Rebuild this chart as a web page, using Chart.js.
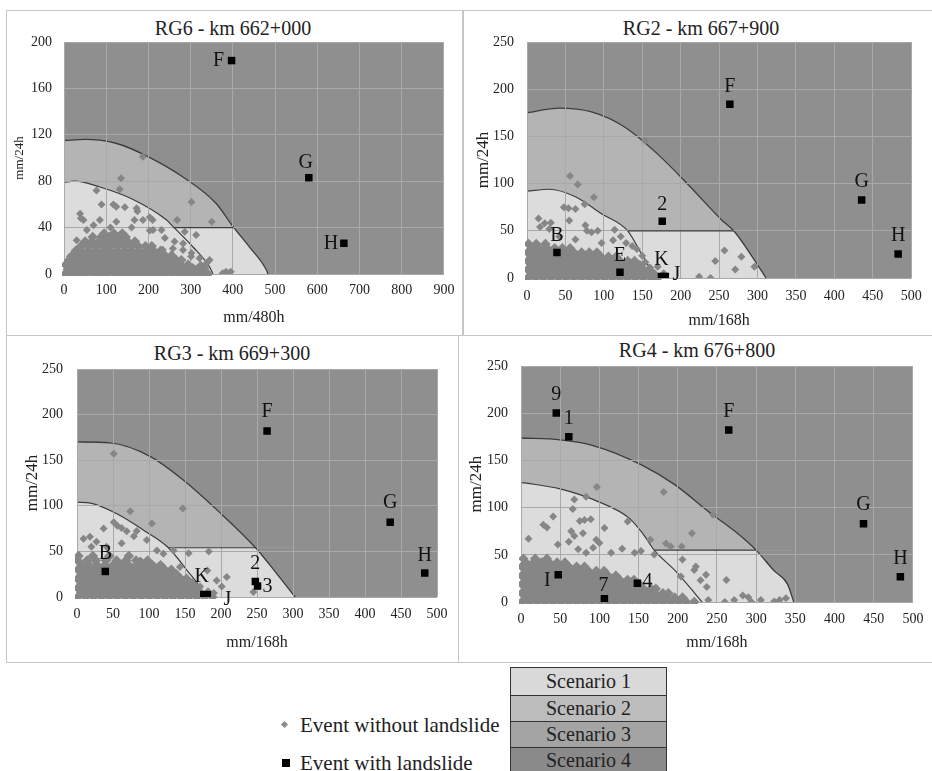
<!DOCTYPE html>
<html>
<head>
<meta charset="utf-8">
<script src="https://cdn.jsdelivr.net/npm/chart.js@4.4.0/dist/chart.umd.min.js"></script>
<style>
  body { margin: 0; background: #fff; font-family: 'Liberation Serif', serif; color: #1a1a1a; }
  #page { position: relative; width: 932px; height: 771px; overflow: hidden; background: #fff; }
  .rule { position: absolute; background: #c6c6c6; }
  .ttl { position: absolute; width: 320px; text-align: center; font-size: 20px; line-height: 24px; white-space: nowrap; font-weight: normal; color: #222; }
  canvas { position: absolute; }
  .leg { position: absolute; font-size: 21px; line-height: 24px; white-space: nowrap; color: #222; }
  #scen { position: absolute; left: 510px; top: 667px; width: 155px; border: 1.5px solid #333; }
  #scen div { display: flex; align-items: center; justify-content: center; font-size: 20px; height: 25px; border-top: 1.5px solid #333; color: #222; }
  #scen div:first-child { border-top: none; height: 27px; }
</style>
</head>
<body>
<div id="page">
  <!-- panel frames -->
  <div class="rule" style="left:6px;top:10px;width:926px;height:1px"></div>
  <div class="rule" style="left:6px;top:10px;width:1px;height:652px"></div>
  <div class="rule" style="left:6px;top:335px;width:926px;height:1px"></div>
  <div class="rule" style="left:6px;top:662px;width:926px;height:1px"></div>
  <div class="rule" style="left:462px;top:10px;width:2px;height:325px"></div>
  <div class="rule" style="left:458px;top:335px;width:1px;height:327px"></div>

  <div class="ttl" style="left:73px;top:16px">RG6 - km 662+000</div>
  <div class="ttl" style="left:541px;top:16px">RG2 - km 667+900</div>
  <div class="ttl" style="left:72px;top:341px">RG3 - km 669+300</div>
  <div class="ttl" style="left:537px;top:338px">RG4 - km 676+800</div>

  <canvas id="c1" width="455" height="314" style="left:7px;top:20px"></canvas>
  <canvas id="c2" width="468" height="314" style="left:464px;top:20px"></canvas>
  <canvas id="c3" width="450" height="315" style="left:8px;top:345px"></canvas>
  <canvas id="c4" width="473" height="315" style="left:459px;top:345px"></canvas>

  <!-- legend -->
  <div style="position:absolute;left:282px;top:722px;width:5px;height:5px;background:#8c8c8c;transform:rotate(45deg)"></div>
  <div class="leg" style="left:300px;top:713px">Event without landslide</div>
  <div style="position:absolute;left:282px;top:759px;width:8px;height:8px;background:#000"></div>
  <div class="leg" style="left:300px;top:751px">Event with landslide</div>
  <div id="scen">
    <div style="background:#d9d9d9">Scenario 1</div>
    <div style="background:#bcbcbc">Scenario 2</div>
    <div style="background:#a4a4a4">Scenario 3</div>
    <div style="background:#8a8a8a">Scenario 4</div>
  </div>
</div>

<script>
// ---- RG6 - km 662+000  (x: mm/480h, y: mm/24h)
// dense cluster of events without landslide near the origin
const rg6Dense = [
  [2,0],[18,0],[35,0],[52,0],[70,0],[86,0],[103,0],[121,0],[137,0],[154,0],[171,0],[188,0],[205,0],[222,0],[239,0],[256,0],[273,0],[290,0],[307,0],[324,0],[341,0],
  [9,4],[26,4],[43,4],[60,4],[77,4],[94,4],[111,4],[128,4],[145,4],[162,4],[179,4],[196,4],[213,4],[230,4],[247,4],[264,4],[281,4],[298,4],[315,4],[330,4],
  [4,8],[20,8],[37,8],[54,8],[71,8],[88,8],[105,8],[122,8],[139,8],[156,8],[173,8],[190,8],[207,8],[224,8],[241,8],[258,8],[276,8],[294,8],
  [12,12],[28,12],[45,12],[62,12],[79,12],[96,12],[113,12],[130,12],[147,12],[164,12],[181,12],[198,12],[215,12],[232,12],[249,12],[266,12],[278,12],
  [20,16],[35,16],[52,16],[69,16],[86,16],[103,16],[120,16],[137,16],[154,16],[171,16],[188,16],[205,16],[222,16],[239,16],[255,16],
  [28,20],[42,20],[59,20],[76,20],[93,20],[110,20],[127,20],[144,20],[161,20],[178,20],[195,20],[212,20],[229,20],
  [40,24],[57,24],[74,24],[91,24],[108,24],[125,24],[142,24],[159,24],[176,24],[193,24],[208,24],
  [50,28],[66,28],[83,28],[100,28],[117,28],[134,28],[151,28],[168,28],
  [68,32],[88,32],[108,32],[126,32],[146,32],
  [95,35],[118,35],[138,35]
];
// scattered events without landslide
const rg6Events = [
  [187,101],[135,82.5],[132,73],[77,72],[89,60],[117,60],[124,58],[144,57.5],[172,56.6],[174,54],[203,49],
  [38,52],[40,48],[46,46.5],[85,46.5],[124,45],[167,46.5],[187,46.5],[203,37.6],[210,46.5],[268,46.5],[302,62],
  [350,45],[286,36.5],[313,33.6],[282,26.4],[258,22],[302,18],[321,13.5],[337,9],[345,12],[384,2],[395,2],
  [290,2],[305,6],[274,8.5],[250,14.5],[234,21],[6,9],[14,15],[30,29],[54,38],[211,38],[231,38],[239,31],
  [160,40],[110,40],[70,42],[262,28],[282,20.7],[301,15],[324,8],[335,5],[376,0.6],[388,0.6]
];
const rg6Slides = [[397,184],[580,83],[663,26.5]];
const rg6Names = ['F','G','H'];
const rg6Outer = [[0,115],[50,116],[125,112.5],[200,101],[280,84],[360,61],[400,41],[440,23],[480,3],[483,0]];
const rg6Inner = [[0,79],[25,80],[85,75],[165,64],[243,46.5],[258,41],[305,23.5],[345,6],[353,0]];
const rg6Split = 40;
const rg6SplitLine = [[259,40],[401,40]];

// ---- RG2 - km 667+900  (x: mm/168h)
const rg2Dense = [
  [1,0],[11,0],[21,0],[31,0],[41,0],[51,0],[61,0],[71,0],[81,0],[91,0],[101,0],[111,0],[121,0],[131,0],[141,0],[151,0],[161,0],[170,0],
  [6,4.5],[16,4.5],[26,4.5],[36,4.5],[46,4.5],[56,4.5],[66,4.5],[76,4.5],[86,4.5],[96,4.5],[106,4.5],[116,4.5],[126,4.5],[136,4.5],[146,4.5],[156,4.5],[165,4.5],
  [1,9],[11,9],[21,9],[31,9],[41,9],[51,9],[61,9],[71,9],[81,9],[91,9],[101,9],[111,9],[121,9],[131,9],[141,9],[151,9],[159,9],
  [6,13.5],[16,13.5],[26,13.5],[36,13.5],[46,13.5],[56,13.5],[66,13.5],[76,13.5],[86,13.5],[96,13.5],[106,13.5],[116,13.5],[126,13.5],[136,13.5],[147,13.5],
  [1,18],[11,18],[21,18],[31,18],[41,18],[51,18],[61,18],[71,18],[81,18],[91,18],[101,18],[111,18],[121,18],[131,18],[140,18],
  [6,22.5],[16,22.5],[26,22.5],[36,22.5],[46,22.5],[56,22.5],[66,22.5],[76,22.5],[86,22.5],[96,22.5],[106,22.5],[116,22.5],
  [1,27],[11,27],[21,27],[31,27],[41,27],[51,27],[61,27],[71,27],[81,27],[91,27],
  [6,31.5],[16,31.5],[26,31.5],[36,31.5],[46,31.5],[56,31.5],
  [2,36],[12,36],[24,36]
];
const rg2Events = [
  [153.5,145.5],[56,108],[66,99],[87,85.5],[75,78],[48,75],[54,74],[63,73],[55,61],[15,63],[23,58],[31,58.5],
  [17,54],[29,52],[76,56],[78,50],[84,48.5],[92,50],[114,51],[122,44],[129,37],[137,34],[143,30.7],[112,40],
  [97,37],[63,40.7],[42,44],[0,37],[6,31.8],[150,23.7],[154,16.6],[160,11],[224,1.4],[239,0],[245,18],[257,29],
  [271,9],[279,22.6],[296,12],[178,5],[170,12]
];
const rg2Slides = [[39,27],[121,6],[176,60],[175,1.5],[180,1.5],[264,184],[435.5,82.6],[483,25.4]];
const rg2Names = ['B','E','2','K','J','F','G','H'];
const rg2Outer = [[0,175],[42,180],[84,176],[127,160],[169,132],[212,97],[254,61],[269,50],[296,19],[311,0]];
const rg2Inner = [[0,92],[29,94],[63,86],[97,68],[131,50],[148,27],[160,10],[166,0]];
const rg2Split = 50;
const rg2SplitLine = [[131,50],[269,50]];

// ---- RG3 - km 669+300  (x: mm/168h)
const rg3Dense = [
  [1,0],[12,0],[23,0],[34,0],[45,0],[56,0],[67,0],[78,0],[89,0],[100,0],[111,0],[122,0],[133,0],[144,0],[155,0],[166,0],[177,0],[188,0],
  [6,5],[17,5],[28,5],[39,5],[50,5],[61,5],[72,5],[83,5],[94,5],[105,5],[116,5],[127,5],[138,5],[149,5],[160,5],[171,5],[182,5],
  [1,10],[12,10],[23,10],[34,10],[45,10],[56,10],[67,10],[78,10],[89,10],[100,10],[111,10],[122,10],[133,10],[144,10],[155,10],[166,10],
  [6,15],[17,15],[28,15],[39,15],[50,15],[61,15],[72,15],[83,15],[94,15],[105,15],[116,15],[127,15],[138,15],[149,15],[160,15],
  [1,20],[12,20],[23,20],[34,20],[45,20],[56,20],[67,20],[78,20],[89,20],[100,20],[111,20],[122,20],[133,20],[144,20],[152,20],
  [6,25],[17,25],[28,25],[39,25],[50,25],[61,25],[72,25],[83,25],[94,25],[105,25],[116,25],[127,25],[138,25],
  [1,30],[12,30],[23,30],[34,30],[45,30],[56,30],[67,30],[78,30],[89,30],[100,30],[111,30],[122,30],[131,30],
  [6,35],[17,35],[28,35],[39,35],[50,35],[61,35],[72,35],[83,35],[94,35],[105,35],[116,35],
  [1,40],[14,40],[26,40],[40,40],[55,40],[68,40],[82,40],[98,40],
  [2,45],[22,45],[45,45],[72,45]
];
const rg3Events = [
  [51,157],[147,97],[104,80.5],[74,94],[83,72.4],[51,82],[56,78],[62,75.6],[69,72],[79,66.6],[37,75],[9,64],
  [18,66],[27,60.6],[20,55],[41,55],[62,58.8],[97,62.5],[111,51],[120,47.5],[2,44],[134,51],[155,48],[183,50],
  [181,29],[143,33],[194,18],[208,22],[201,11.5],[190,4.4],[171,11.5],[245,5.5],[88,40]
];
const rg3Slides = [[39.3,28],[176,2.6],[181,2.6],[247.7,17],[250.8,12],[264,182],[435,82],[483,26.3]];
const rg3Names = ['B','K','J','2','3','F','G','H'];
const rg3Outer = [[0,170],[46,169],[102,154],[148,128],[195,95],[248,54],[277,26],[303,0]];
const rg3Inner = [[0,104],[19,103],[56,91],[93,73],[127,54],[153,29],[176,4],[178,0]];
const rg3Split = 54;
const rg3SplitLine = [[127,54],[248,54]];

// ---- RG4 - km 676+800  (x: mm/168h)
const rg4Dense = [
  [1,0],[11,0],[21,0],[31,0],[41,0],[51,0],[61,0],[71,0],[81,0],[91,0],[101,0],[111,0],[121,0],[131,0],[141,0],[151,0],[161,0],[171,0],[181,0],[191,0],[201,0],[211,0],[221,0],
  [6,4.7],[16,4.7],[26,4.7],[36,4.7],[46,4.7],[56,4.7],[66,4.7],[76,4.7],[86,4.7],[96,4.7],[106,4.7],[116,4.7],[126,4.7],[136,4.7],[146,4.7],[156,4.7],[166,4.7],[176,4.7],[186,4.7],[196,4.7],[206,4.7],
  [1,9.4],[11,9.4],[21,9.4],[31,9.4],[41,9.4],[51,9.4],[61,9.4],[71,9.4],[81,9.4],[91,9.4],[101,9.4],[111,9.4],[121,9.4],[131,9.4],[141,9.4],[151,9.4],[161,9.4],[171,9.4],[181,9.4],[188,9.4],
  [6,14],[16,14],[26,14],[36,14],[46,14],[56,14],[66,14],[76,14],[86,14],[96,14],[106,14],[116,14],[126,14],[136,14],[146,14],[156,14],[166,14],[172,14],
  [1,19],[11,19],[21,19],[31,19],[41,19],[51,19],[61,19],[71,19],[81,19],[91,19],[101,19],[111,19],[121,19],[131,19],[141,19],[151,19],
  [6,23.5],[16,23.5],[26,23.5],[36,23.5],[46,23.5],[56,23.5],[66,23.5],[76,23.5],[86,23.5],[96,23.5],[106,23.5],[116,23.5],[126,23.5],[136,23.5],[144,23.5],
  [1,28],[11,28],[21,28],[31,28],[41,28],[51,28],[61,28],[71,28],[81,28],[91,28],[101,28],[111,28],[121,28],
  [6,33],[16,33],[26,33],[36,33],[46,33],[56,33],[66,33],[76,33],[86,33],[96,33],[106,33],
  [1,37.5],[11,37.5],[21,37.5],[31,37.5],[41,37.5],[51,37.5],[61,37.5],[71,37.5],[81,37.5],
  [6,42],[16,42],[26,42],[36,42],[46,42],[56,42],
  [3,46],[18,46],[33,46]
];
const rg4Events = [
  [182,116.8],[96.7,122],[83,111.6],[68,108.8],[66,98.7],[28.5,82],[33,79],[41,90.7],[75,86],[81,87],[89,87.7],
  [9.6,67],[47,61],[64,75],[68,70],[79,73],[61,64],[96,66],[100,62.6],[106.5,78.5],[136,85.5],[73,56],[83,52.3],
  [92,57.5],[115,52.3],[129,56.5],[145,52.3],[153,54],[165,66],[185,62],[191,59],[205,59],[218,73],[245,92.5],
  [170,50.5],[206,45],[223,37.6],[236,29],[262,23.4],[221,34],[229,23],[237,16],[204,27],[260,0],[272,2],
  [283,7],[290,5],[306,2],[323,0.5],[330,2],[338,4],[294,0],[239,2]
];
const rg4Slides = [[45,200.5],[61,175.4],[265,182.4],[437,83],[484,26.9],[47.5,29],[106.4,3.5],[148.5,19.9]];
const rg4Names = ['9','1','F','G','H','I','7','4'];
const rg4Outer = [[0,174],[50,172],[92,166],[155,145],[197,124],[239,96],[273,75],[300,55],[323,33],[340,19],[348,0]];
const rg4Inner = [[0,127],[50,120],[100,106],[138,89],[155,73],[170,55],[197,33],[222,9],[231,0]];
const rg4Split = 55;
const rg4SplitLine = [[170,55],[300,55]];

// ---- styling
const SCEN1 = '#dcdcdc', SCEN2 = '#b4b4b4', SCEN_OUT = '#8f8f8f';
const CURVE = '#3c3c3c', GRID = '#a9a9a9', DOT = '#868686', INK = '#222';
const SERIF = 'Liberation Serif';
Chart.defaults.font.family = SERIF;
Chart.defaults.color = INK;

// label offsets (px) of the landslide letters relative to their marker
const rg6LabelOff = [[-13,0],[-3,-15],[-13,0]];
const rg2LabelOff = [[0,-17],[0,-17],[0,-17],[0,-17],[11,-2],[0,-18],[0,-18],[0,-18]];
const rg3LabelOff = [[0,-18],[-2,-18],[20,5],[0,-18],[10,1],[0,-19],[0,-19],[0,-17]];
const rg4LabelOff = [[0,-18],[0,-18],[0,-18],[0,-19],[0,-18],[-11,6],[-1,-13],[10,-1]];

// axis box sizes so the plot areas land where the original ones are
const LAYOUT = {
  c1: { top: 22, right: 17, yW: 57, yPad: 12, yTitle: 5.2, yFont: 13, xH: 60, xPad: 7.6, xTitle: 6.4 },
  c2: { top: 22, right: 12, yW: 63, yPad: 13, yTitle: 9.8, yFont: 17, xH: 56, xPad: 10.3, xTitle: 3.4 },
  c3: { top: 24, right: 21, yW: 69, yPad: 14, yTitle: 14.8, yFont: 17, xH: 63, xPad: 8.6, xTitle: 7.4 },
  c4: { top: 18, right: 15, yW: 62, yPad: 13, yTitle: 7.8, yFont: 17, xH: 58, xPad: 8.6, xTitle: 7.4 },
};

const plotBg = {
  id: 'plotBg',
  beforeDraw(chart) {
    const { ctx, chartArea: a } = chart;
    ctx.save();
    ctx.fillStyle = SCEN_OUT;
    ctx.fillRect(a.left, a.top, a.width, a.height);
    ctx.restore();
  }
};

// grid has to sit over the scenario fills but under the points
const gridOver = {
  id: 'gridOver',
  beforeDatasetDraw(chart, args) {
    if (args.index !== 3) return;
    chart.scales.x.drawGrid(chart.chartArea);
    chart.scales.y.drawGrid(chart.chartArea);
  }
};

function slideNames(names, offs) {
  return {
    id: 'slideNames',
    afterDatasetsDraw(chart) {
      const ctx = chart.ctx;
      const meta = chart.getDatasetMeta(0);
      ctx.save();
      ctx.font = "20px 'Liberation Serif'";
      ctx.fillStyle = '#111';
      ctx.textAlign = 'center';
      ctx.textBaseline = 'middle';
      meta.data.forEach((pt, i) => ctx.fillText(names[i], pt.x + offs[i][0], pt.y + offs[i][1]));
      ctx.restore();
    }
  };
}

function drawPanel(id, p) {
  const L = LAYOUT[id];
  const curve = { pointRadius: 0, cubicInterpolationMode: 'monotone' };
  const tickFont = { family: SERIF, size: 14 };
  new Chart(document.getElementById(id), {
    type: 'scatter',
    data: {
      datasets: [
        { data: p.slides, pointStyle: 'rect', pointRadius: 5.3, backgroundColor: '#000', borderWidth: 0 },
        { data: p.events, pointStyle: 'rectRot', pointRadius: 4, backgroundColor: DOT, borderWidth: 0 },
        { data: p.dense, pointStyle: 'rectRot', pointRadius: 5.2, backgroundColor: DOT, borderWidth: 0, clip: 2 },
        { type: 'line', data: p.splitLine, borderColor: CURVE, borderWidth: 1.2, pointRadius: 0, fill: false },
        { type: 'line', data: p.inner, ...curve, borderColor: CURVE, borderWidth: 1.2, fill: 'origin', backgroundColor: SCEN1 },
        { type: 'line', data: p.outer, ...curve, borderColor: CURVE, borderWidth: 1.3,
          fill: { target: { value: p.split }, above: SCEN2, below: 'rgba(0,0,0,0)' } },
        { type: 'line', data: p.outer, ...curve, borderWidth: 0, fill: 'origin', backgroundColor: SCEN1 },
      ]
    },
    options: {
      responsive: false,
      animation: false,
      events: [],
      layout: { padding: { top: L.top, right: L.right, left: 0, bottom: 0 } },
      plugins: { legend: { display: false }, tooltip: { enabled: false } },
      scales: {
        x: {
          type: 'linear', min: 0, max: p.xMax,
          afterFit: s => { s.height = L.xH; },
          ticks: { stepSize: p.xStep, padding: L.xPad, font: tickFont, color: INK, maxRotation: 0 },
          grid: { color: GRID, drawTicks: false },
          border: { display: false },
          title: { display: true, text: p.xTitle, font: { family: SERIF, size: 16 }, color: INK, padding: { top: 0, bottom: L.xTitle } }
        },
        y: {
          type: 'linear', min: 0, max: p.yMax,
          afterFit: s => { s.width = L.yW; },
          ticks: { stepSize: p.yStep, padding: L.yPad, font: tickFont, color: INK },
          grid: { color: GRID, drawTicks: false },
          border: { display: false },
          title: { display: true, text: 'mm/24h', font: { family: SERIF, size: L.yFont }, color: INK, padding: { top: L.yTitle, bottom: 0 } }
        }
      }
    },
    plugins: [plotBg, gridOver, slideNames(p.names, p.offs)]
  });
}

drawPanel('c1', { xMax: 900, xStep: 100, yMax: 200, yStep: 40, xTitle: 'mm/480h',
  dense: rg6Dense, events: rg6Events, slides: rg6Slides, names: rg6Names, offs: rg6LabelOff,
  outer: rg6Outer, inner: rg6Inner, split: rg6Split, splitLine: rg6SplitLine });
drawPanel('c2', { xMax: 500, xStep: 50, yMax: 250, yStep: 50, xTitle: 'mm/168h',
  dense: rg2Dense, events: rg2Events, slides: rg2Slides, names: rg2Names, offs: rg2LabelOff,
  outer: rg2Outer, inner: rg2Inner, split: rg2Split, splitLine: rg2SplitLine });
drawPanel('c3', { xMax: 500, xStep: 50, yMax: 250, yStep: 50, xTitle: 'mm/168h',
  dense: rg3Dense, events: rg3Events, slides: rg3Slides, names: rg3Names, offs: rg3LabelOff,
  outer: rg3Outer, inner: rg3Inner, split: rg3Split, splitLine: rg3SplitLine });
drawPanel('c4', { xMax: 500, xStep: 50, yMax: 250, yStep: 50, xTitle: 'mm/168h',
  dense: rg4Dense, events: rg4Events, slides: rg4Slides, names: rg4Names, offs: rg4LabelOff,
  outer: rg4Outer, inner: rg4Inner, split: rg4Split, splitLine: rg4SplitLine });
</script>
</body>
</html>
